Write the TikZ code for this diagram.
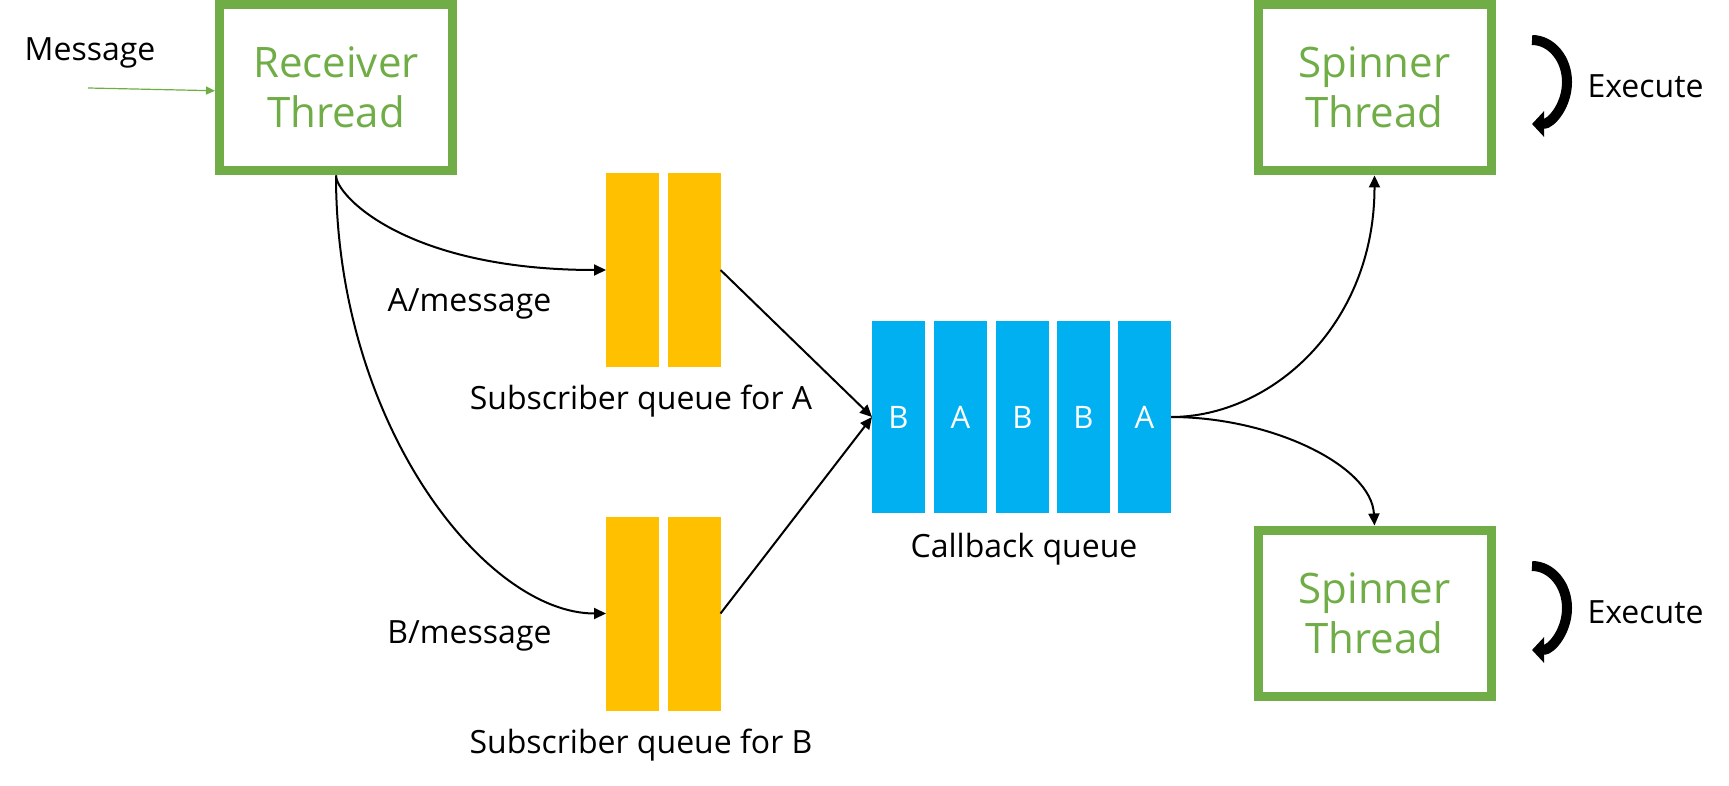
\documentclass[tikz,border=0pt]{standalone}
\usepackage{fontspec}
\setmainfont{Open Sans}
\usetikzlibrary{arrows.meta}
\definecolor{pgreen}{HTML}{70AD47}
\definecolor{pyellow}{HTML}{FFC000}
\definecolor{pblue}{HTML}{00B0F0}
\begin{document}
\begin{tikzpicture}[x=1pt,y=-1pt,
  thread/.style={draw=pgreen, line width=9pt, minimum width=233pt, minimum height=166.5pt, inner sep=0pt, text=pgreen, align=center, font=\fontsize{42}{50}\selectfont},
  ycell/.style={fill=pyellow, minimum width=53pt, minimum height=194pt, inner sep=0pt, outer sep=0pt},
  bcell/.style={fill=pblue, minimum width=53pt, minimum height=192pt, inner sep=0pt, outer sep=0pt, text=white, font=\fontsize{31}{36}\selectfont},
  lbl/.style={anchor=base, inner sep=0pt, font=\fontsize{32}{38}\selectfont},
  conn/.style={line width=2pt, -{Triangle[length=12pt,width=11pt]}},
  spinarrow/.style={line width=10pt, -{Triangle[length=12pt,width=25pt]}}
]
\useasboundingbox (0,0) rectangle (1729,786);

% thread boxes
\node[thread] (recv)  at (336,87.75)    {Receiver\\Thread};
\node[thread] (spin1) at (1374.5,87.75) {Spinner\\Thread};
\node[thread] (spin2) at (1374.5,613.25) {Spinner\\Thread};

% subscriber queues
\node[ycell] (qa1) at (632.5,270) {};
\node[ycell] (qa2) at (694,270) {};
\node[ycell] (qb1) at (632.5,613.5) {};
\node[ycell] (qb2) at (694,613.5) {};

% callback queue
\node[bcell] (cb1) at (898.5,417) {B};
\node[bcell] (cb2) at (960.5,417) {A};
\node[bcell] (cb3) at (1022.5,417) {B};
\node[bcell] (cb4) at (1083.5,417) {B};
\node[bcell] (cb5) at (1144.5,417) {A};

% labels
\node[lbl] (msg)  at (90,61)      {Message};
\node[lbl] (amsg) at (469.5,312)  {A/message};
\node[lbl] (sqa)  at (641,409)    {Subscriber queue for A};
\node[lbl] (bmsg) at (469.5,643)  {B/message};
\node[lbl] (sqb)  at (641,753)    {Subscriber queue for B};
\node[lbl] (cbq)  at (1024,557)   {Callback queue};
\node[lbl] (ex1)  at (1645.5,98)  {Execute};
\node[lbl] (ex2)  at (1645.5,623) {Execute};

% connectors
\coordinate (msgstart) at (88,88);
\draw[draw=pgreen, line width=1.2pt, -{Triangle[length=9pt,width=8pt]}] (msgstart) -- ([yshift=-3pt]recv.west);

\draw[conn] (recv.south) .. controls +(0,20) and +(-200,0) .. (qa1.west);
\draw[conn] (recv.south) .. controls +(0,250) and +(-120,0) .. (qb1.west);
\draw[conn] (qa2.east) -- (cb1.west);
\draw[conn] (qb2.east) -- (cb1.west);
\draw[conn] (cb5.east) .. controls +(100,0) and +(0,150) .. (spin1.south);
\draw[conn] (cb5.east) .. controls +(100,0) and +(-3,-60) .. (spin2.north);

% execute loop arrows
\coordinate (loop1) at (1532,40);
\coordinate (loop2) at (1532,566);
\draw[spinarrow] (loop1) arc[start angle=-90, end angle=90, x radius=35, y radius=42];
\draw[spinarrow] (loop2) arc[start angle=-90, end angle=90, x radius=35, y radius=42];
\end{tikzpicture}
\end{document}
